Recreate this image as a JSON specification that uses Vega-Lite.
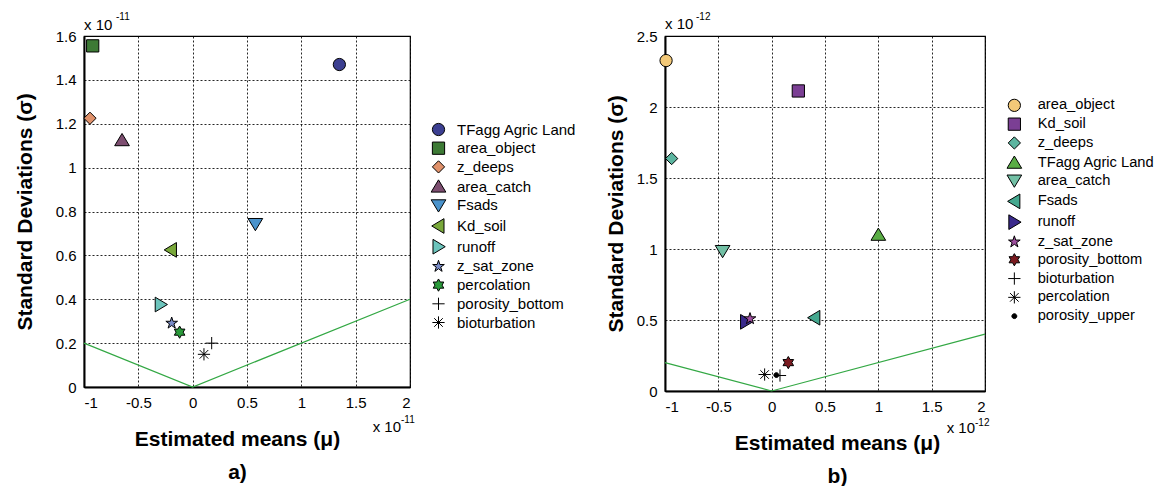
{
  "$schema": "https://vega.github.io/schema/vega-lite/v6.json",
  "background": "white",
  "padding": {"left": 13, "top": 11, "right": 0, "bottom": 0},
  "spacing": 26,
  "config": {
    "font": "Liberation Sans",
    "view": {"stroke": "black", "strokeWidth": 1.2},
    "axis": {
      "labelFont": "Liberation Sans", "labelFontSize": 15, "labelColor": "black",
      "titleFont": "Liberation Sans", "titleFontSize": 21, "titleFontWeight": "bold", "titleColor": "black",
      "domainColor": "black", "domainWidth": 2, "tickSize": 0, "labelPadding": 8,
      "gridColor": "black", "gridDash": [2, 2], "gridWidth": 1, "gridOpacity": 0.85
    },
    "legend": {
      "labelFont": "Liberation Sans", "labelFontSize": 15, "labelColor": "black",
      "symbolStrokeColor": "black", "symbolStrokeWidth": 1, "symbolSize": 150,
      "rowPadding": 1.7, "orient": "none", "title": null, "labelLimit": 300
    }
  },
  "datasets": {
    "ptsA": [
      {"param": "TFagg Agric Land", "mu": 1.35, "sigma": 1.47},
      {"param": "area_object", "mu": -0.92, "sigma": 1.555},
      {"param": "z_deeps", "mu": -0.945, "sigma": 1.225},
      {"param": "area_catch", "mu": -0.65, "sigma": 1.125},
      {"param": "Fsads", "mu": 0.577, "sigma": 0.743},
      {"param": "Kd_soil", "mu": -0.2, "sigma": 0.625},
      {"param": "runoff", "mu": -0.294, "sigma": 0.376},
      {"param": "z_sat_zone", "mu": -0.193, "sigma": 0.291},
      {"param": "percolation", "mu": -0.12, "sigma": 0.25},
      {"param": "porosity_bottom", "mu": 0.175, "sigma": 0.2},
      {"param": "bioturbation", "mu": 0.104, "sigma": 0.149}
    ],
    "ptsB": [
      {"param": "area_object", "mu": -0.99, "sigma": 2.327},
      {"param": "Kd_soil", "mu": 0.25, "sigma": 2.113},
      {"param": "z_deeps", "mu": -0.9375, "sigma": 1.637},
      {"param": "TFagg Agric Land", "mu": 1.0, "sigma": 1.1},
      {"param": "area_catch", "mu": -0.46, "sigma": 0.986},
      {"param": "Fsads", "mu": 0.4, "sigma": 0.516},
      {"param": "runoff", "mu": -0.24, "sigma": 0.487},
      {"param": "z_sat_zone", "mu": -0.203, "sigma": 0.509},
      {"param": "porosity_bottom", "mu": 0.156, "sigma": 0.2},
      {"param": "bioturbation", "mu": 0.078, "sigma": 0.109},
      {"param": "percolation", "mu": -0.066, "sigma": 0.116},
      {"param": "porosity_upper", "mu": 0.044, "sigma": 0.112}
    ],
    "lineA": [
      {"mu": -1, "sigma": 0.2},
      {"mu": 0, "sigma": 0},
      {"mu": 2, "sigma": 0.4}
    ],
    "lineB": [
      {"mu": -1, "sigma": 0.2},
      {"mu": 0, "sigma": 0},
      {"mu": 2, "sigma": 0.4}
    ],
    "notesA": [
      {"pos": "top", "mu": -1, "sigma": 1.6, "base": "x 10", "exp": "-11"},
      {"pos": "bottom", "mu": 2, "sigma": 0, "base": "x 10", "exp": "-11"}
    ],
    "notesB": [
      {"pos": "top", "mu": -1, "sigma": 2.5, "base": "x 10", "exp": "-12"},
      {"pos": "bottom", "mu": 2, "sigma": 0, "base": "x 10", "exp": "-12"}
    ]
  },
  "hconcat": [
    {
      "width": 326,
      "height": 351,
      "encoding": {
        "x": {
          "field": "mu", "type": "quantitative",
          "scale": {"domain": [-1, 2], "nice": false, "zero": false},
          "axis": {
            "title": ["Estimated means (μ)", "a)"], "titleLineHeight": 33, "titlePadding": 18, "titleX": 153,
            "values": [-1, -0.5, 0, 0.5, 1, 1.5, 2],
            "labelExpr": "datum.value < 0 ? '-' + format(-datum.value, '~g') : format(datum.value, '~g')"
          }
        },
        "y": {
          "field": "sigma", "type": "quantitative",
          "scale": {"domain": [0, 1.6], "nice": false},
          "axis": {
            "title": "Standard Deviations (σ)", "titlePadding": 20,
            "values": [0, 0.2, 0.4, 0.6, 0.8, 1, 1.2, 1.4, 1.6],
            "labelExpr": "format(datum.value, '~g')"
          }
        }
      },
      "layer": [
        {
          "data": {"name": "lineA"},
          "mark": {"type": "line", "color": "#33a844", "strokeWidth": 1.2}
        },
        {
          "data": {"name": "ptsA"},
          "mark": {"type": "point", "filled": true, "stroke": "black", "strokeWidth": 1, "size": 150, "opacity": 1},
          "encoding": {
            "color": {
              "field": "param", "type": "nominal",
              "scale": {
                "domain": ["TFagg Agric Land", "area_object", "z_deeps", "area_catch", "Fsads", "Kd_soil", "runoff", "z_sat_zone", "percolation", "porosity_bottom", "bioturbation"],
                "range": ["#3c3f91", "#3d7a35", "#e0916a", "#7d4e70", "#4a93cc", "#79a83a", "#6cc4bc", "#7a8cc8", "#2a9a3a", "#000000", "#000000"]
              },
              "legend": {"legendX": 347, "legendY": 86, "labelOffset": 11}
            },
            "shape": {
              "field": "param", "type": "nominal",
              "scale": {
                "domain": ["TFagg Agric Land", "area_object", "z_deeps", "area_catch", "Fsads", "Kd_soil", "runoff", "z_sat_zone", "percolation", "porosity_bottom", "bioturbation"],
                "range": ["circle", "square", "diamond",
                  "M0,-1.1L1.2,0.9L-1.2,0.9Z",
                  "M0,1.1L1.2,-0.9L-1.2,-0.9Z",
                  "M-1.1,0L0.9,-1.2L0.9,1.2Z",
                  "M1.1,0L-0.9,-1.2L-0.9,1.2Z",
                  "M0,-1L0.225,-0.309L0.951,-0.309L0.363,0.118L0.588,0.809L0,0.382L-0.588,0.809L-0.363,0.118L-0.951,-0.309L-0.225,-0.309Z",
                  "M0,-1L0.289,-0.5L0.866,-0.5L0.577,0L0.866,0.5L0.289,0.5L0,1L-0.289,0.5L-0.866,0.5L-0.577,0L-0.866,-0.5L-0.289,-0.5Z",
                  "M-1,0L1,0M0,-1L0,1",
                  "M-1,0L1,0M0,-1L0,1M-0.7,-0.7L0.7,0.7M-0.7,0.7L0.7,-0.7"]
              },
              "legend": {"legendX": 347, "legendY": 86, "labelOffset": 11}
            }
          }
        },
        {
          "data": {"name": "notesA"},
          "transform": [{"filter": "datum.pos == 'top'"}],
          "mark": {"type": "text", "align": "left", "baseline": "alphabetic", "fontSize": 15, "dx": 0, "dy": -6, "color": "black"},
          "encoding": {"text": {"field": "base"}}
        },
        {
          "data": {"name": "notesA"},
          "transform": [{"filter": "datum.pos == 'top'"}],
          "mark": {"type": "text", "align": "left", "baseline": "alphabetic", "fontSize": 10, "dx": 32, "dy": -16, "color": "black"},
          "encoding": {"text": {"field": "exp"}}
        },
        {
          "data": {"name": "notesA"},
          "transform": [{"filter": "datum.pos == 'bottom'"}],
          "mark": {"type": "text", "align": "right", "baseline": "alphabetic", "fontSize": 15, "dx": -9, "dy": 45, "color": "black"},
          "encoding": {"text": {"field": "base"}}
        },
        {
          "data": {"name": "notesA"},
          "transform": [{"filter": "datum.pos == 'bottom'"}],
          "mark": {"type": "text", "align": "left", "baseline": "alphabetic", "fontSize": 10, "dx": -9, "dy": 36, "color": "black"},
          "encoding": {"text": {"field": "exp"}}
        }
      ]
    },
    {
      "width": 320,
      "height": 355,
      "encoding": {
        "x": {
          "field": "mu", "type": "quantitative",
          "scale": {"domain": [-1, 2], "nice": false, "zero": false},
          "axis": {
            "title": ["Estimated means (μ)", "b)"], "titleLineHeight": 33, "titlePadding": 18, "titleX": 172,
            "values": [-1, -0.5, 0, 0.5, 1, 1.5, 2],
            "labelExpr": "datum.value < 0 ? '-' + format(-datum.value, '~g') : format(datum.value, '~g')"
          }
        },
        "y": {
          "field": "sigma", "type": "quantitative",
          "scale": {"domain": [0, 2.5], "nice": false},
          "axis": {
            "title": "Standard Deviations (σ)", "titlePadding": 10,
            "values": [0, 0.5, 1, 1.5, 2, 2.5],
            "labelExpr": "format(datum.value, '~g')"
          }
        }
      },
      "layer": [
        {
          "data": {"name": "lineB"},
          "mark": {"type": "line", "color": "#33a844", "strokeWidth": 1.2}
        },
        {
          "data": {"name": "ptsB"},
          "mark": {"type": "point", "filled": true, "stroke": "black", "strokeWidth": 1, "size": 150, "opacity": 1},
          "encoding": {
            "color": {
              "field": "param", "type": "nominal",
              "scale": {
                "domain": ["area_object", "Kd_soil", "z_deeps", "TFagg Agric Land", "area_catch", "Fsads", "runoff", "z_sat_zone", "porosity_bottom", "bioturbation", "percolation", "porosity_upper"],
                "range": ["#f3c978", "#7b3f94", "#5cb5a0", "#5aad45", "#72c0a5", "#45a88f", "#3a2a8c", "#a050a0", "#7a1a20", "#000000", "#000000", "#000000"]
              },
              "legend": {"legendX": 342, "legendY": 62, "labelOffset": 16, "labelFontSize": 14.7, "rowPadding": 1.8}
            },
            "shape": {
              "field": "param", "type": "nominal",
              "scale": {
                "domain": ["area_object", "Kd_soil", "z_deeps", "TFagg Agric Land", "area_catch", "Fsads", "runoff", "z_sat_zone", "porosity_bottom", "bioturbation", "percolation", "porosity_upper"],
                "range": ["circle", "square", "diamond",
                  "M0,-1.1L1.2,0.9L-1.2,0.9Z",
                  "M0,1.1L1.2,-0.9L-1.2,-0.9Z",
                  "M-1.1,0L0.9,-1.2L0.9,1.2Z",
                  "M1.1,0L-0.9,-1.2L-0.9,1.2Z",
                  "M0,-1L0.225,-0.309L0.951,-0.309L0.363,0.118L0.588,0.809L0,0.382L-0.588,0.809L-0.363,0.118L-0.951,-0.309L-0.225,-0.309Z",
                  "M0,-1L0.289,-0.5L0.866,-0.5L0.577,0L0.866,0.5L0.289,0.5L0,1L-0.289,0.5L-0.866,0.5L-0.577,0L-0.866,-0.5L-0.289,-0.5Z",
                  "M-1,0L1,0M0,-1L0,1",
                  "M-1,0L1,0M0,-1L0,1M-0.7,-0.7L0.7,0.7M-0.7,0.7L0.7,-0.7",
                  "M0,-0.4A0.4,0.4 0 1,1 0,0.4A0.4,0.4 0 1,1 0,-0.4Z"]
              },
              "legend": {"legendX": 342, "legendY": 62, "labelOffset": 16, "labelFontSize": 14.7, "rowPadding": 1.8}
            }
          }
        },
        {
          "data": {"name": "notesB"},
          "transform": [{"filter": "datum.pos == 'top'"}],
          "mark": {"type": "text", "align": "left", "baseline": "alphabetic", "fontSize": 15, "dx": 0, "dy": -7, "color": "black"},
          "encoding": {"text": {"field": "base"}}
        },
        {
          "data": {"name": "notesB"},
          "transform": [{"filter": "datum.pos == 'top'"}],
          "mark": {"type": "text", "align": "left", "baseline": "alphabetic", "fontSize": 10, "dx": 31, "dy": -16, "color": "black"},
          "encoding": {"text": {"field": "exp"}}
        },
        {
          "data": {"name": "notesB"},
          "transform": [{"filter": "datum.pos == 'bottom'"}],
          "mark": {"type": "text", "align": "right", "baseline": "alphabetic", "fontSize": 15, "dx": -10, "dy": 42, "color": "black"},
          "encoding": {"text": {"field": "base"}}
        },
        {
          "data": {"name": "notesB"},
          "transform": [{"filter": "datum.pos == 'bottom'"}],
          "mark": {"type": "text", "align": "left", "baseline": "alphabetic", "fontSize": 10, "dx": -10, "dy": 35, "color": "black"},
          "encoding": {"text": {"field": "exp"}}
        }
      ]
    }
  ],
  "resolve": {
    "scale": {"color": "independent", "shape": "independent", "x": "independent", "y": "independent"},
    "legend": {"color": "independent", "shape": "independent"}
  }
}
